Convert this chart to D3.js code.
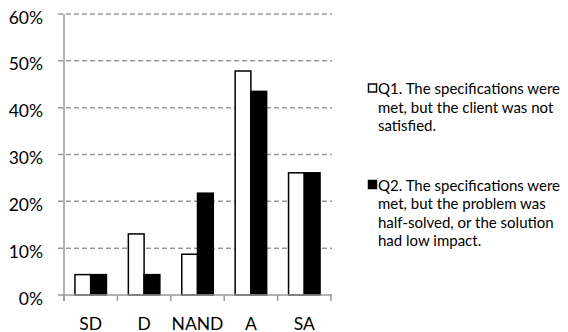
<!DOCTYPE html>
<html><head><meta charset="utf-8">
<script src="https://cdn.jsdelivr.net/npm/d3@7"></script>
<style>
html,body{margin:0;padding:0;background:#fff;}
text{font-family:Lato,"Open Sans",sans-serif;fill:#000;}
</style></head>
<body><svg id="chart" width="568" height="332"></svg>
<script>
const categories = ["SD", "D", "NAND", "A", "SA"];
const q1Values = [4.35, 13.04, 8.70, 47.83, 26.09];
const q2Values = [4.35, 4.35, 21.74, 43.48, 26.09];
const yTicks = [0, 10, 20, 30, 40, 50, 60];
const seriesNames = ["Q1", "Q2"];
const legendLines = [
  ["Q1. The specifications were", "met, but the client was not", "satisfied."],
  ["Q2. The specifications were", "met, but the problem was", "half-solved, or the solution", "had low impact."]
];
const seriesFill = ["#fff", "#000"];

const svg = d3.select("#chart");
const x0 = 64, x1 = 331, yTop = 14, yBot = 295;

const x = d3.scaleBand().domain(categories).range([x0, x1]).paddingInner(0.41).paddingOuter(0.205);
const xs = d3.scaleBand().domain(seriesNames).range([0, x.bandwidth()]);
const y = d3.scaleLinear().domain([0, 60]).range([yBot, yTop]);
const xb = d3.scaleBand().domain(categories).range([x0, x1]);

// gridlines
svg.append("g").selectAll("line").data(yTicks.filter(d => d > 0)).join("line")
  .attr("x1", 58).attr("x2", 332)
  .attr("y1", d => y(d)).attr("y2", d => y(d))
  .attr("stroke", "#999").attr("stroke-width", 1.5).attr("stroke-dasharray", "5,3");

// y axis line
svg.append("line").attr("x1", x0).attr("x2", x0).attr("y1", y(60)).attr("y2", yBot + 6)
  .attr("stroke", "#999").attr("stroke-width", 1.5);

// y labels
svg.append("g").selectAll("text").data(yTicks).join("text")
  .attr("x", 43).attr("y", d => y(d) + 3)
  .attr("text-anchor", "end").attr("dominant-baseline", "central")
  .style("font-size", "17.5px")
  .text(d => d + "%");

// bars
const data = categories.map((c, i) => ({c, vals: [q1Values[i], q2Values[i]]}));
const groups = svg.append("g").selectAll("g").data(data).join("g")
  .attr("transform", d => `translate(${x(d.c)},0)`);
groups.selectAll("rect").data(d => d.vals.map((v, j) => ({v, j}))).join("rect")
  .attr("x", d => xs(seriesNames[d.j]))
  .attr("width", xs.bandwidth())
  .attr("y", d => y(d.v))
  .attr("height", d => yBot - y(d.v))
  .attr("fill", d => seriesFill[d.j])
  .attr("stroke", "#000").attr("stroke-width", 1.5);

// x axis baseline and ticks
svg.append("line").attr("x1", 58).attr("x2", 332).attr("y1", yBot).attr("y2", yBot)
  .attr("stroke", "#999").attr("stroke-width", 1.5);
const bounds = categories.map(c => xb(c)).concat([x1]);
svg.append("g").selectAll("line").data(bounds).join("line")
  .attr("x1", d => d).attr("x2", d => d).attr("y1", yBot).attr("y2", yBot + 6)
  .attr("stroke", "#999").attr("stroke-width", 1.5);

// x labels
svg.append("g").selectAll("text").data(categories).join("text")
  .attr("x", d => xb(d) + xb.bandwidth() / 2).attr("y", 329.5)
  .attr("text-anchor", "middle").style("font-size", "17.5px")
  .text(d => d);

// legend
const legendTop = [94, 190.5];
const lineH = 18.6;
legendLines.forEach((lines, i) => {
  const g = svg.append("g");
  g.append("rect").attr("x", 368.5).attr("y", legendTop[i] - 10).attr("width", 8).attr("height", 8)
    .attr("fill", seriesFill[i]).attr("stroke", "#000").attr("stroke-width", 1.5);
  g.selectAll("text").data(lines).join("text")
    .attr("x", 378).attr("y", (d, k) => legendTop[i] + k * lineH)
    .style("font-size", "15px").text(d => d);
});
</script></body></html>
